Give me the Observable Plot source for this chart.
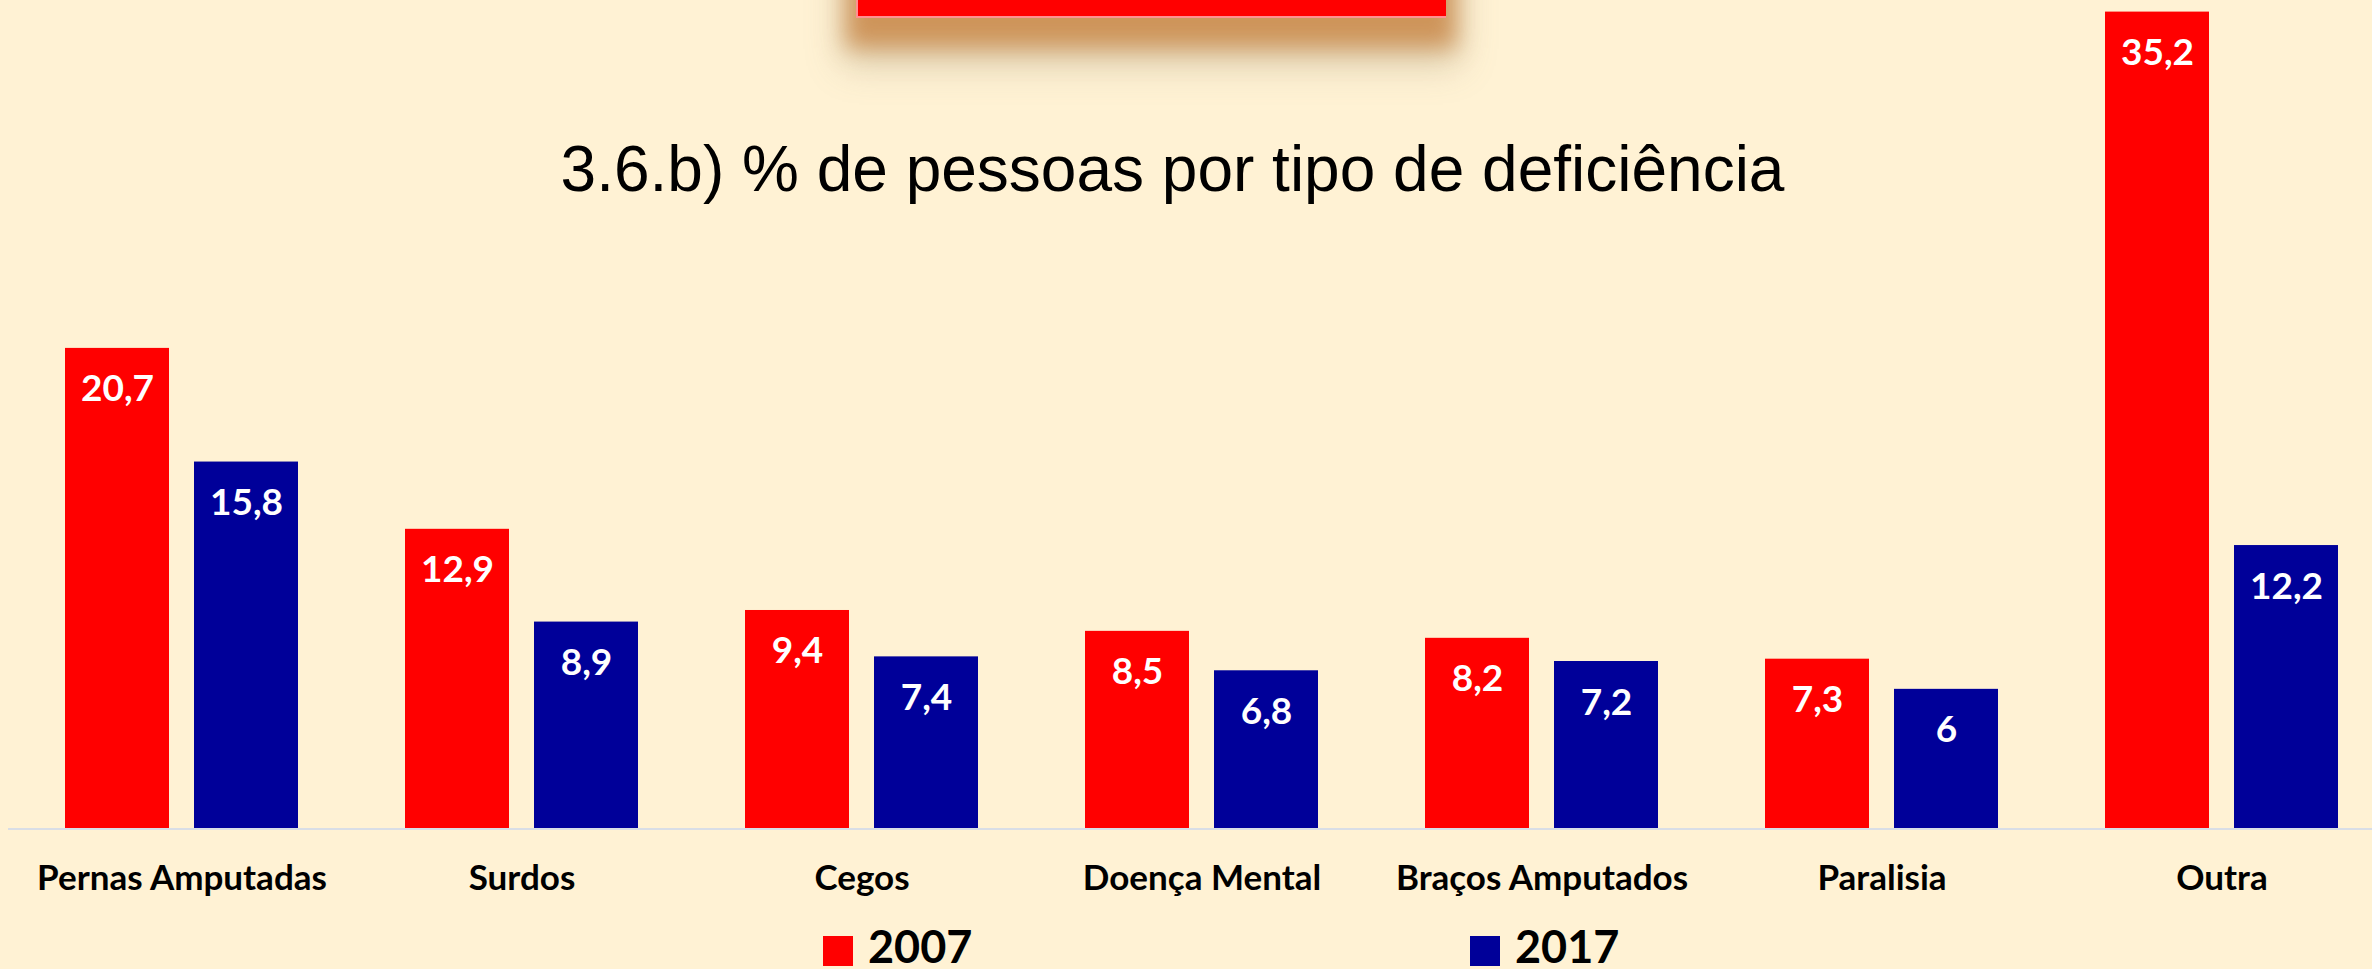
<!DOCTYPE html>
<html>
<head>
<meta charset="utf-8">
<script src="https://cdn.jsdelivr.net/npm/d3@7"></script>
<script src="https://cdn.jsdelivr.net/npm/@observablehq/plot@0.6"></script>
<style>
  html, body { margin: 0; padding: 0; background: #FFF2D4; overflow: hidden; }
  #wrap { position: relative; width: 2372px; height: 969px; background: #FFF2D4; }
  #chart { position: absolute; left: 0; top: 0; }
  #redbox {
    position: absolute; left: 856px; top: -60px; width: 590px; height: 78px;
    background: #FF0000;
    box-shadow: inset 2px -2px 0 rgba(255,160,160,0.9),
                0 20px 22px 10px rgba(200,125,55,0.72),
                0 34px 34px 14px rgba(150,140,110,0.3);
  }
  #title {
    position: absolute; left: 0; width: 2345px; top: 137px; text-align: center;
    font-family: "Liberation Sans", Arial, sans-serif; font-size: 64px; line-height: 64px;
    color: #000; white-space: nowrap;
  }
  #legend { position: absolute; left: 0; top: 910px; width: 2372px; height: 59px; }
  .sw { position: absolute; top: 26px; width: 30px; height: 30px; }
  .lt { position: absolute; top: 14px; font-family: Lato, sans-serif; font-weight: bold;
        font-size: 45px; line-height: 45px; color: #000; }
</style>
</head>
<body>
<div id="wrap">
  <div id="chart"></div>
  <div id="redbox"></div>
  <div id="title">3.6.b) % de pessoas por tipo de deficiência</div>
  <div id="legend"></div>
</div>
<script>
const categories = ["Pernas Amputadas", "Surdos", "Cegos", "Doença Mental", "Braços Amputados", "Paralisia", "Outra"];
const years = ["2007", "2017"];
const values2007 = [20.7, 12.9, 9.4, 8.5, 8.2, 7.3, 35.2];
const values2017 = [15.8, 8.9, 7.4, 6.8, 7.2, 6, 12.2];
const colors = ["#FF0000", "#000099"];

const data = [];
categories.forEach((c, i) => {
  data.push({cat: c, year: years[0], value: values2007[i]});
  data.push({cat: c, year: years[1], value: values2017[i]});
});
const fmt = v => String(v).replace(".", ",");

let superSupported = true;
function build(useSuper) {
  const marks = [];
  if (useSuper) {
    marks.push(Plot.ruleY([0], {facet: "super", stroke: "#D9DEE6", strokeWidth: 2, insetLeft: -24}));
  }
  marks.push(
    Plot.barY(data, {fx: "cat", x: "year", y: "value", fill: "year"}),
    Plot.text(data, {
      fx: "cat", x: "year", y: "value", text: d => fmt(d.value),
      fill: "white", fontSize: 37, fontWeight: "bold", fontFamily: "Lato",
      lineAnchor: "bottom", dy: 53
    }),
    Plot.text(categories, {
      fx: d => d, text: d => d, frameAnchor: "bottom", lineAnchor: "bottom", dy: 61,
      fill: "black", fontSize: 35, fontWeight: "bold", fontFamily: "Lato"
    })
  );
  return Plot.plot({
    width: 2372, height: 910,
    marginTop: 0, marginBottom: 82, marginLeft: 32, marginRight: 1,
    style: {background: "transparent", fontFamily: "Lato", overflow: "visible"},
    fx: {domain: categories, paddingInner: 0.3096, paddingOuter: 0.0905, axis: null, label: null},
    x: {domain: years, paddingInner: 0.1923, paddingOuter: 0, axis: null},
    y: {domain: [0, 35.7], axis: null},
    color: {type: "ordinal", domain: years, range: colors},
    marks
  });
}
let chart;
try { chart = build(true); } catch (e) { superSupported = false; chart = build(false); }
document.getElementById("chart").appendChild(chart);
if (!superSupported) {
  const y = chart.scale("y");
  const y0 = y.apply(0);
  d3.select(chart).insert("line", ":first-child")
    .attr("x1", 8).attr("x2", 2372).attr("y1", y0 + 1).attr("y2", y0 + 1)
    .attr("stroke", "#D9DEE6").attr("stroke-width", 2);
}

const legend = document.getElementById("legend");
const legendX = [{sw: 823, tx: 868}, {sw: 1470, tx: 1515}];
years.forEach((yr, i) => {
  const s = document.createElement("div");
  s.className = "sw"; s.style.left = legendX[i].sw + "px"; s.style.background = colors[i];
  legend.appendChild(s);
  const t = document.createElement("div");
  t.className = "lt"; t.style.left = legendX[i].tx + "px"; t.textContent = yr;
  legend.appendChild(t);
});
</script>
</body>
</html>
